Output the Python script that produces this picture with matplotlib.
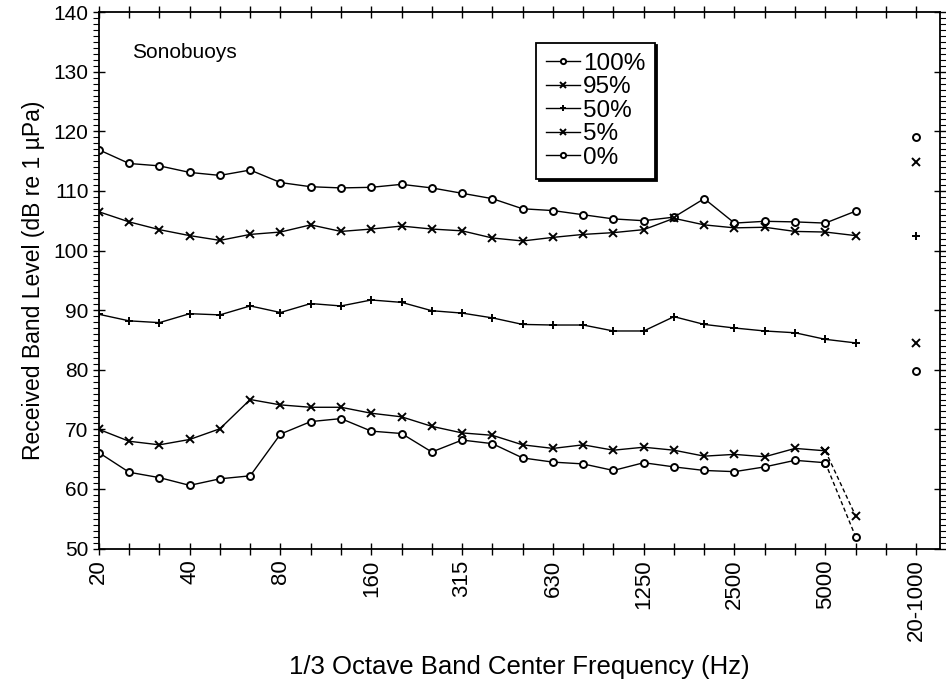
import matplotlib
matplotlib.use("Agg")
import matplotlib.pyplot as plt
from matplotlib.ticker import FixedLocator, MultipleLocator

plt.rcParams['font.family'] = ['Liberation Sans', 'DejaVu Sans']

bands = ["20", "25", "31.5", "40", "50", "63", "80", "100", "125", "160", "200", "250",
         "315", "400", "500", "630", "800", "1000", "1250", "1600", "2000", "2500",
         "3150", "4000", "5000", "6300"]
tick_labels = ["20", "40", "80", "160", "315", "630", "1250", "2500", "5000", "20-1000"]
broadband_label = "20-1000"

p100 = [116.9, 114.6, 114.2, 113.1, 112.6, 113.5, 111.4, 110.7, 110.5, 110.6, 111.1, 110.5,
        109.6, 108.7, 107.0, 106.7, 106.0, 105.3, 105.0, 105.6, 108.7, 104.6, 104.9, 104.8,
        104.6, 106.6]
p95 = [106.5, 104.8, 103.5, 102.5, 101.7, 102.7, 103.1, 104.3, 103.2, 103.6, 104.1, 103.6,
       103.3, 102.1, 101.6, 102.2, 102.7, 103.0, 103.5, 105.4, 104.3, 103.8, 103.9, 103.2,
       103.1, 102.5]
p50 = [89.3, 88.2, 87.9, 89.4, 89.2, 90.7, 89.6, 91.1, 90.7, 91.7, 91.3, 89.9,
       89.5, 88.7, 87.6, 87.5, 87.5, 86.5, 86.5, 88.9, 87.6, 87.0, 86.5, 86.2,
       85.1, 84.5]
p5 = [70.0, 68.0, 67.4, 68.3, 70.1, 75.0, 74.1, 73.7, 73.7, 72.7, 72.1, 70.5,
      69.4, 69.0, 67.4, 66.8, 67.4, 66.5, 67.0, 66.5, 65.5, 65.8, 65.4, 66.8,
      66.4, 55.5]
p0 = [66.1, 62.8, 61.9, 60.6, 61.7, 62.2, 69.2, 71.3, 71.8, 69.7, 69.3, 66.2,
      68.2, 67.6, 65.2, 64.5, 64.2, 63.1, 64.4, 63.7, 63.1, 62.9, 63.7, 64.8,
      64.4, 52.0]
broadband = {"100%": 119.0, "95%": 114.8, "50%": 102.5, "5%": 84.5, "0%": 79.8}

series = [("100%", p100, 'o', False), ("95%", p95, 'x', False), ("50%", p50, '+', False),
          ("5%", p5, 'x', True), ("0%", p0, 'o', True)]

fig = plt.figure(figsize=(9.46, 6.90), dpi=100)
ax = fig.add_axes([0.1045, 0.205, 0.8895, 0.7775])

x = list(range(len(bands)))
bb_x = len(bands) + 1
handles = []
for name, vals, mk, dash_last in series:
    kw = dict(color='black', lw=1.0, marker=mk, markersize=5 if mk == 'o' else 6,
              markerfacecolor='white' if mk == 'o' else 'black',
              markeredgecolor='black', markeredgewidth=1.4)
    if dash_last:
        h, = ax.plot(x[:-1], vals[:-1], **kw)
        ax.plot(x[-2:], vals[-2:], linestyle=(0, (3, 2)), **kw)
    else:
        h, = ax.plot(x, vals, **kw)
    ax.plot([bb_x], [broadband[name]], linestyle='none', **kw)
    handles.append(h)

ax.set_xlim(0, 27.8)
ax.set_ylim(50, 140)

tick_pos = list(range(0, len(bands), 3)) + [bb_x]
ax.xaxis.set_major_locator(FixedLocator(tick_pos))
ax.set_xticklabels(tick_labels, rotation=90, fontsize=16)
ax.xaxis.set_minor_locator(FixedLocator(list(range(0, 28))))
ax.yaxis.set_major_locator(MultipleLocator(10))
ax.yaxis.set_minor_locator(MultipleLocator(1))
ax.tick_params(axis='y', which='major', labelsize=15, direction='inout', length=8, width=1)
ax.tick_params(axis='y', which='minor', direction='out', length=4, width=0.8)
ax.tick_params(axis='x', which='both', direction='inout', length=8, width=1, top=True)
ax.tick_params(axis='y', which='both', right=True)
ax.tick_params(axis='x', which='major', pad=4)
for s in ax.spines.values():
    s.set_linewidth(1.3)

ax.set_ylabel("Received Band Level (dB re 1 \u00b5Pa)", fontsize=16.5, labelpad=6)
ax.set_xlabel("1/3 Octave Band Center Frequency (Hz)", fontsize=18.5, labelpad=10)

ax.text(0.04, 0.925, "Sonobuoys", transform=ax.transAxes, fontsize=15,
        ha='left', va='center')

leg = ax.legend(handles, [s[0] for s in series], loc='upper left',
                bbox_to_anchor=(0.52, 0.942), borderaxespad=0, fontsize=17.5,
                frameon=True, fancybox=False, handlelength=1.4, handletextpad=0.12,
                labelspacing=0.06, borderpad=0.4, markerscale=0.75,
                shadow={'color': 'black', 'alpha': 1, 'ox': 1.5, 'oy': -1.5})
leg.get_frame().set_edgecolor('black')
leg.get_frame().set_linewidth(1.3)

fig.savefig("out.png", dpi=100)
